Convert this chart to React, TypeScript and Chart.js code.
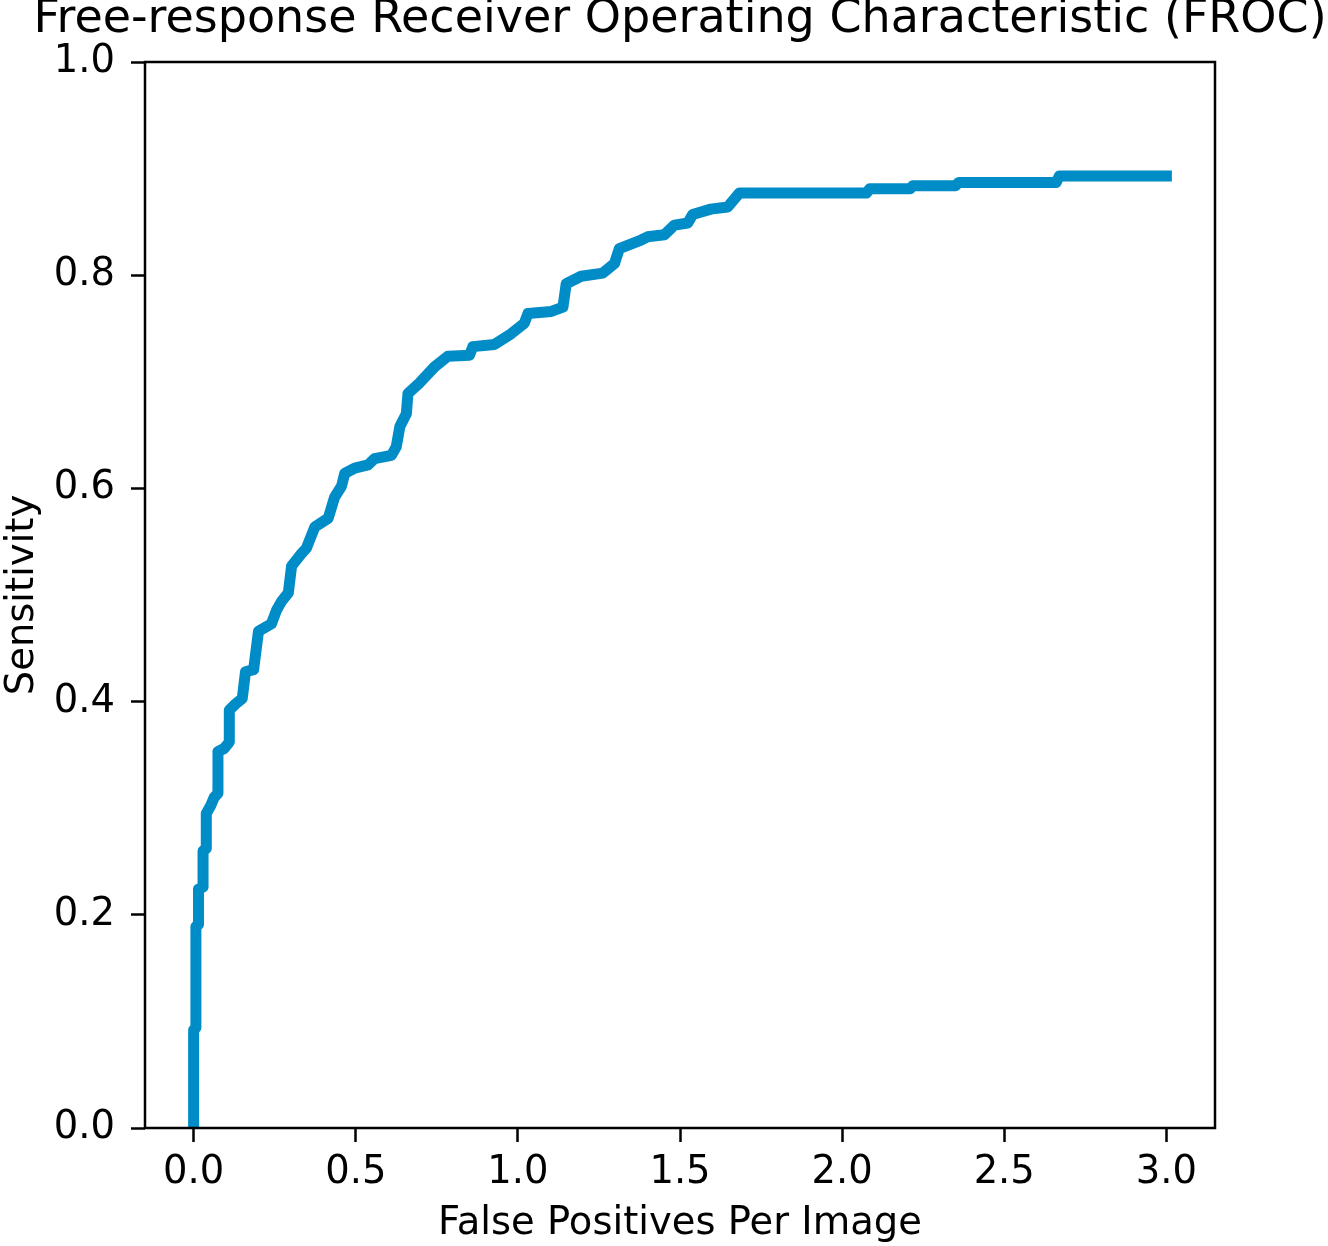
import React, { useEffect, useRef } from "react";
import { Chart, registerables } from "chart.js";

Chart.register(...registerables);

const titleText = "Free-response Receiver Operating Characteristic (FROC)";
const xAxisLabel = "False Positives Per Image";
const yAxisLabel = "Sensitivity";

const xTickValues = [0, 0.5, 1.0, 1.5, 2.0, 2.5, 3.0];
const yTickValues = [0, 0.2, 0.4, 0.6, 0.8, 1.0];

const fpPerImage = [
  0, 0, 0.007, 0.007, 0.015, 0.015, 0.029, 0.029, 0.039, 0.039, 0.052, 0.063,
  0.075, 0.075, 0.094, 0.11, 0.11, 0.13, 0.15, 0.16, 0.185, 0.2, 0.24, 0.256,
  0.271, 0.292, 0.302, 0.333, 0.348, 0.374, 0.415, 0.435, 0.456, 0.466, 0.497,
  0.538, 0.558, 0.61, 0.625, 0.636, 0.656, 0.661, 0.697, 0.743, 0.784, 0.851,
  0.861, 0.928, 0.979, 1.02, 1.031, 1.103, 1.139, 1.149, 1.195, 1.262, 1.298,
  1.313, 1.38, 1.4, 1.452, 1.483, 1.524, 1.539, 1.595, 1.647, 1.683, 2.075,
  2.085, 2.21, 2.218, 2.35, 2.36, 2.66, 2.67, 3.0,
];

const sensitivity = [
  0, 0.092, 0.094, 0.189, 0.191, 0.224, 0.226, 0.26, 0.262, 0.295, 0.302, 0.31,
  0.314, 0.353, 0.356, 0.362, 0.392, 0.398, 0.403, 0.428, 0.43, 0.466, 0.473,
  0.486, 0.494, 0.502, 0.527, 0.539, 0.544, 0.564, 0.572, 0.592, 0.602, 0.614,
  0.619, 0.622, 0.628, 0.631, 0.639, 0.658, 0.67, 0.689, 0.699, 0.714, 0.724,
  0.725, 0.733, 0.735, 0.745, 0.755, 0.764, 0.766, 0.77, 0.792, 0.799, 0.802,
  0.811, 0.825, 0.833, 0.836, 0.838, 0.847, 0.849, 0.857, 0.862, 0.864, 0.877,
  0.877, 0.881, 0.881, 0.884, 0.884, 0.887, 0.887, 0.893, 0.893,
];

const FONT = "DejaVu Sans";

const spinesPlugin = {
  id: "spines",
  afterDatasetsDraw(chart: any) {
    const { ctx, chartArea } = chart;
    ctx.save();
    ctx.strokeStyle = "#000";
    ctx.lineWidth = 2.5;
    ctx.strokeRect(
      chartArea.left,
      chartArea.top,
      chartArea.right - chartArea.left,
      chartArea.bottom - chartArea.top
    );
    ctx.restore();
  },
};

export default function App() {
  const canvasRef = useRef<HTMLCanvasElement | null>(null);

  useEffect(() => {
    if (!canvasRef.current) return;
    const points = fpPerImage.map((x, i) => ({ x, y: sensitivity[i] }));
    const chart = new Chart(canvasRef.current, {
      type: "line",
      data: {
        datasets: [
          {
            label: "FROC",
            data: points,
            borderColor: "#008cc7",
            backgroundColor: "#008cc7",
            borderWidth: 11,
            pointRadius: 0,
            tension: 0,
            borderCapStyle: "square",
            borderJoinStyle: "round",
            fill: false,
          },
        ],
      },
      options: {
        animation: false,
        responsive: false,
        devicePixelRatio: 1,
        layout: { padding: { left: 32, right: 0, top: 0, bottom: 0 } },
        plugins: {
          legend: { display: false },
          tooltip: { enabled: false },
          title: {
            display: true,
            text: titleText,
            color: "#000",
            font: { family: FONT, size: 46, weight: "normal" },
            padding: { top: -8, bottom: 14.8 },
          },
        },
        scales: {
          x: {
            type: "linear",
            min: -0.15,
            max: 3.15,
            afterBuildTicks: (s: any) => {
              s.ticks = xTickValues.map((v) => ({ value: v }));
            },
            afterFit: (s: any) => {
              s.height = 118;
            },
            ticks: {
              color: "#000",
              font: { family: FONT, size: 38.5 },
              padding: 8,
              maxRotation: 0,
              autoSkip: false,
              callback: (v: any) => Number(v).toFixed(1),
            },
            grid: {
              display: true,
              drawOnChartArea: false,
              drawTicks: true,
              tickLength: 14,
              tickWidth: 2.5,
              tickColor: "#000",
            },
            border: { display: false },
            title: {
              display: true,
              text: xAxisLabel,
              color: "#000",
              font: { family: FONT, size: 38.5 },
              padding: { top: 0, bottom: -1 },
            },
          },
          y: {
            type: "linear",
            position: "left",
            min: 0,
            max: 1,
            afterBuildTicks: (s: any) => {
              s.ticks = yTickValues.map((v) => ({ value: v }));
            },
            afterFit: (s: any) => {
              s.width = 113;
            },
            ticks: {
              color: "#000",
              font: { family: FONT, size: 38.5 },
              padding: 16,
              autoSkip: false,
              callback: (v: any) => Number(v).toFixed(1),
            },
            grid: {
              display: true,
              drawOnChartArea: false,
              drawTicks: true,
              tickLength: 14,
              tickWidth: 2.5,
              tickColor: "#000",
            },
            border: { display: false },
            title: {
              display: true,
              text: yAxisLabel,
              color: "#000",
              font: { family: FONT, size: 38.5 },
              padding: { top: -32, bottom: 0 },
            },
          },
          yRight: {
            type: "linear",
            position: "right",
            display: true,
            min: 0,
            max: 1,
            afterFit: (s: any) => {
              s.width = 113;
            },
            ticks: { display: false },
            grid: { display: false },
            border: { display: false },
            title: { display: false },
          },
        },
      } as any,
      plugins: [spinesPlugin],
    });
    return () => chart.destroy();
  }, []);

  return (
    <div
      style={{
        position: "absolute",
        left: 0,
        top: 0,
        width: 1328,
        height: 1246,
        background: "#fff",
      }}
    >
      <canvas ref={canvasRef} width={1328} height={1246} />
    </div>
  );
}
